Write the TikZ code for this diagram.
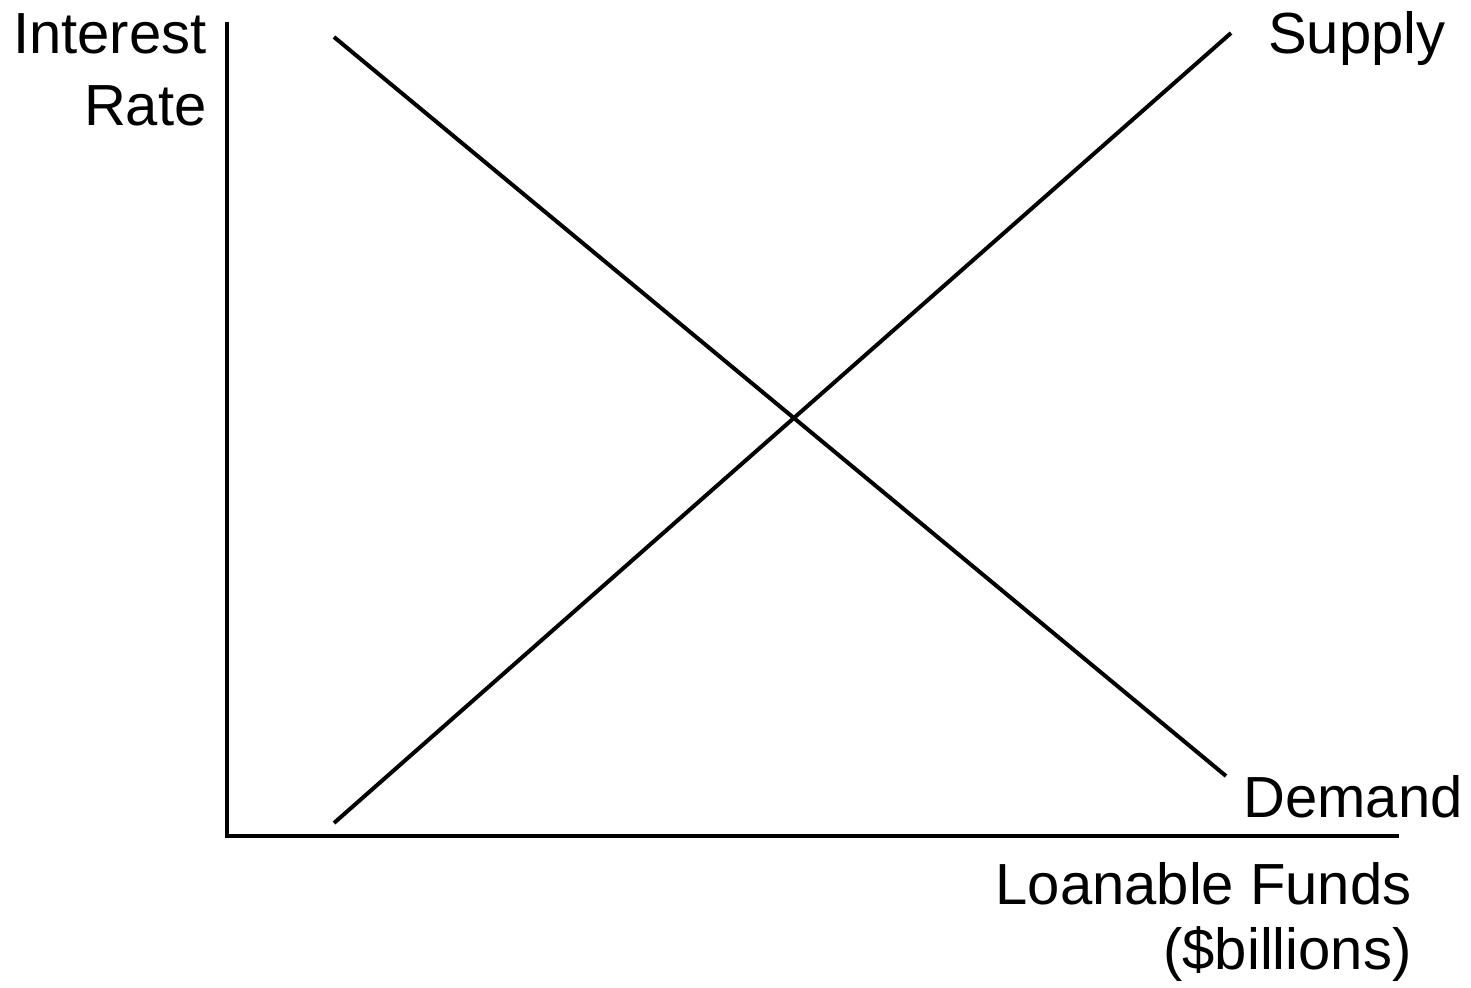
\documentclass[tikz,border=0pt]{standalone}
\usepackage{fontspec}
\setmainfont{Liberation Sans}
\usetikzlibrary{positioning}
\tikzset{
  axisline/.style={line width=2.2pt,black},
  curveline/.style={line width=2pt,black},
  curvelabel/.style={font=\fontsize{29}{35}\selectfont,inner sep=0pt},
  axislabel/.style={inner sep=0pt,align=right}
}
\begin{document}
\begin{tikzpicture}[x=0.5pt,y=-0.5pt]
  \useasboundingbox (0,0) rectangle (1471,987);
  % axes
  \coordinate (ytop) at (227,22);
  \coordinate (origin) at (227,836);
  \coordinate (xend) at (1399,836);
  \draw[axisline] (ytop) -- (origin) -- (xend);
  % curves
  \coordinate (dtop) at (334,37);
  \coordinate (dend) at (1226,776);
  \coordinate (sbot) at (334,823);
  \coordinate (stop) at (1231,33);
  \draw[curveline] (dtop) -- (dend);
  \draw[curveline] (sbot) -- (stop);
  % labels
  \node[axislabel,font=\fontsize{29}{36}\selectfont,anchor=north east] (ylabel) at (207,13) {Interest\\Rate};
  \node[axislabel,font=\fontsize{29}{32.5}\selectfont,anchor=north east] (xlabel) at (1412,862) {Loanable Funds\\(\$billions)};
  \node[curvelabel,anchor=base east] (supply) at (1446,53) {Supply};
  \node[curvelabel,anchor=base east] (demand) at (1463,817) {Demand};
\end{tikzpicture}
\end{document}
